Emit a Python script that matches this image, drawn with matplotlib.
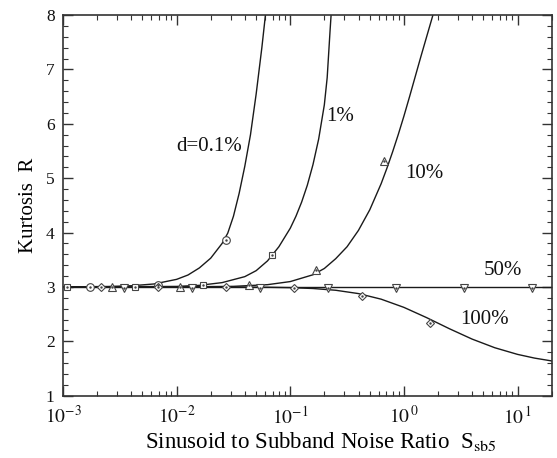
import numpy as np
import matplotlib
matplotlib.use("Agg")
import matplotlib.pyplot as plt
from matplotlib.ticker import FixedLocator, NullFormatter, MultipleLocator

plt.rcParams['font.family'] = ['Liberation Serif', 'DejaVu Serif']
plt.rcParams['mathtext.fontset'] = 'stix'

# ---- curve data (theory lines); x given as log10 of sinusoid-to-subband noise ratio, y = kurtosis R
x_d001 = [-3.0, -2.6, -2.4, -2.2, -2.0, -1.9, -1.8, -1.7, -1.6, -1.55, -1.5, -1.45,
          -1.4, -1.35, -1.3, -1.25, -1.2]
r_d001 = [3.0015, 3.009, 3.022, 3.055, 3.14, 3.22, 3.35, 3.53, 3.80, 3.99,
          4.30, 4.72, 5.22, 5.80, 6.55, 7.40, 8.35]

x_d01 = [-3.0, -2.0, -1.8, -1.6, -1.4, -1.3, -1.2, -1.1, -1.0, -0.95, -0.9, -0.85,
         -0.8, -0.75, -0.7, -0.675, -0.65, -0.625]
r_d01 = [3.0, 3.01, 3.03, 3.08, 3.19, 3.30, 3.48, 3.74, 4.08, 4.30, 4.56, 4.87,
         5.25, 5.72, 6.35, 6.85, 7.70, 8.50]

x_d10 = [-3.0, -2.0, -1.5, -1.2, -1.0, -0.8, -0.7, -0.6, -0.5, -0.4, -0.3, -0.2,
         -0.15, -0.1, -0.05, 0.0, 0.05, 0.1, 0.15, 0.2, 0.25, 0.3]
r_d10 = [3.0, 3.0012, 3.0113, 3.0423, 3.0992, 3.2245, 3.34, 3.52, 3.74, 4.04,
         4.42, 4.90, 5.18, 5.48, 5.80, 6.14, 6.50, 6.87, 7.24, 7.60, 7.96, 8.33]

x_d50 = [-3.0, 1.301]
r_d50 = [3.0, 3.0]

x_d100 = [-3.0, -2.0, -1.5, -1.2, -1.0, -0.8, -0.6, -0.4, -0.2, 0.0, 0.2, 0.4, 0.6,
          0.8, 1.0, 1.15, 1.301]
r_d100 = [3.0, 2.9999, 2.9986, 2.9947, 2.9876, 2.9719, 2.9395, 2.8784, 2.7755, 2.625,
          2.4362, 2.2326, 2.0417, 1.8824, 1.7603, 1.6917, 1.6395]

# ---- simulated points (markers)
mx_d001 = [0.00173, 0.0068, 0.0273]
my_d001 = [3.0, 3.04, 3.87]
mx_d01 = [0.00109, 0.0043, 0.0171, 0.0686]
my_d01 = [3.0, 3.0, 3.04, 3.58]
mx_d10 = [0.0027, 0.0108, 0.043, 0.170, 0.668]
my_d10 = [3.0, 3.0, 3.03, 3.32, 5.31]
mx_d50 = [0.00343, 0.0136, 0.0542, 0.215, 0.845, 3.4, 13.5]
my_d50 = [2.98, 2.98, 2.98, 2.98, 2.98, 2.98, 2.98]
mx_d100 = [0.00215, 0.0068, 0.0273, 0.108, 0.43, 1.71]
my_d100 = [3.0, 3.0, 3.0, 2.99, 2.83, 2.33]

labels = ['d=0.1%', '1%', '10%', '50%', '100%']
label_x = [0.0099, 0.206, 1.035, 5.04, 3.14]
label_y = [5.59, 6.13, 5.08, 3.30, 2.40]

xticks = [1e-3, 1e-2, 1e-1, 1e0, 1e1]
xtick_labels = ['$10^{-3}$', '$10^{-2}$', '$10^{-1}$', '$10^{\\,0}$', '$10^{\\,1}$']
yticks = [1, 2, 3, 4, 5, 6, 7, 8]

fig = plt.figure(figsize=(5.57, 4.58), dpi=100)
ax = fig.add_axes([0.1131, 0.136, 0.8774, 0.831])

line_kw = dict(color='#1a1a1a', lw=1.0, zorder=2)
for xs, rs in [(x_d001, r_d001), (x_d01, r_d01), (x_d10, r_d10), (x_d50, r_d50), (x_d100, r_d100)]:
    ax.plot(10.0 ** np.array(xs), rs, **line_kw)

mk_kw = dict(linestyle='none', markerfacecolor='white', markeredgecolor='#444444',
             markeredgewidth=0.8, zorder=3)
for mx, my, m in [(mx_d001, my_d001, 'o'), (mx_d01, my_d01, 's'), (mx_d10, my_d10, '^'),
                  (mx_d50, my_d50, 'v'), (mx_d100, my_d100, 'D')]:
    ms = 4.5 if m in ('s', 'D') else 5.5
    ax.plot(mx, my, marker=m, markersize=ms, **mk_kw)
    ax.plot(mx, my, marker='.', linestyle='none', color='#444444', markersize=1.5, zorder=4)

for t, lx, ly in zip(labels, label_x, label_y):
    ax.text(lx, ly, t, fontsize=15, ha='left', va='center', color='#111111')

ax.set_xscale('log')
ax.set_xlim(1e-3, 20)
ax.set_ylim(1, 8)
ax.set_xticks(xticks)
ax.set_xticklabels(xtick_labels)
minor = [m * 10.0 ** e for e in range(-3, 2) for m in range(2, 10)]
ax.xaxis.set_minor_locator(FixedLocator(minor))
ax.xaxis.set_minor_formatter(NullFormatter())
ax.set_yticks(yticks)
ax.yaxis.set_minor_locator(MultipleLocator(0.2))

ax.tick_params(which='both', direction='in', top=True, right=True, colors='#333333',
               labelcolor='#111111')
ax.tick_params(which='major', length=7, width=1.0)
ax.tick_params(axis='x', which='major', pad=7, labelsize=14)
ax.tick_params(axis='y', which='major', pad=6, labelsize=12.5)
ax.tick_params(which='minor', length=3.5, width=0.8)
for s in ax.spines.values():
    s.set_color('#333333')
    s.set_linewidth(1.2)

ax.set_xlabel('Sinusoid to Subband Noise Ratio  S$_{\\mathrm{sb5}}$', fontsize=16.5)
ax.xaxis.set_label_coords(0.528, -0.089)
ax.set_ylabel('Kurtosis  R', fontsize=15, labelpad=6)

fig.savefig('out.png', dpi=100)
